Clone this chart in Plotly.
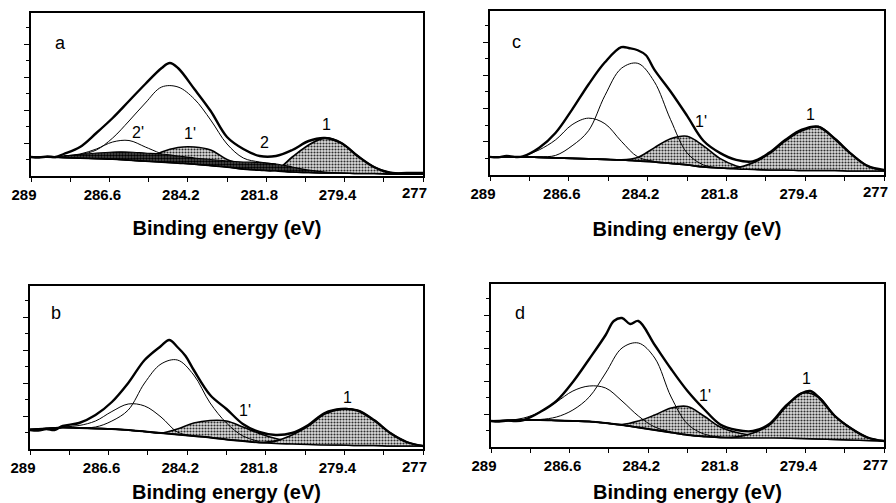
import plotly.graph_objects as go

# ---------------- data (intensity in arbitrary units) ----------------
E = [289, 288.5, 288, 287.5, 287, 286.5, 286, 285.5, 285, 284.5, 284, 283.5, 283,
     282.5, 282, 281.5, 281, 280.5, 280, 279.5, 279, 278.5, 278, 277.5, 277]
N = None

# panel a
raw_E_a = [289, 288.75, 288.5, 288.25, 288, 287.5, 287, 286.5, 286, 285.5, 285, 284.75, 284.5,
           284, 283.5, 283, 282.5, 282, 281.5, 281, 280.5, 280, 279.5, 279, 278.5, 278, 277.5, 277]
raw_a = [19, 18.5, 19.5, 19, 22, 29, 43, 58, 75, 92, 108, 113, 108, 87, 65, 39, 27, 20, 20, 26,
         35, 38, 33, 20, 9, 3, 3, 3]
bg_a = [19, 19, 18.5, 18, 17.5, 17, 16, 15, 14, 13, 12, 10.5, 9, 7, 6, 5, 4, 3.5, 3, 3,
        2.5, 2.5, 2, 2, 2]
band_a = [19, 19, 20, 21.5, 23, 24, 24, 23, 22, 20, 18, 16.5, 15, 14, 13.5, 12, 9, 6, 4, 3,
          2.5, 2.5, 2, 2, 2]
p2s_a = [N, N, 20, 22, 27, 34, 35.5, 29, 22, N, N, N, N, N, N, N, N, N, N, N, N, N, N, N, N]
main_a = [N, N, 20, 21.5, 26, 38, 55, 73, 89, 89, 77, 56, 32, 18, 14, 12, N, N, N, N, N, N, N, N, N]
p1s_a = [19, 19, 18.5, 18, 17.5, 17, 16, 15.5, 24, 28.5, 29, 26, 16.5, 11.5, 8.5, 6, 4, 3.5,
         3, 3, 2.5, 2.5, 2, 2, 2]
p1_a = [19, 19, 18.5, 18, 17.5, 17, 16, 15, 14, 13, 12, 10.5, 9, 7, 6, 6, 19, 31, 38, 33,
        20, 9, 3.5, 2.5, 2]

# panel b
raw_E_b = [289, 288.75, 288.5, 288.25, 288, 287.5, 287, 286.5, 286, 285.5, 285, 284.75, 284.5,
           284.25, 284, 283.5, 283, 282.5, 282, 281.5, 281, 280.5, 280, 279.5, 279, 278.5, 278,
           277.5, 277]
raw_b = [19, 18.5, 20, 19, 23, 26, 34, 47, 66, 89, 103, 109, 102, 93, 79, 54, 40, 25, 17, 14,
         16, 24, 36, 40, 38.5, 29, 16, 7, 3]
bg_b = [19.5, 20.5, 21.5, 21, 20.5, 20, 19, 17.5, 16, 14.5, 13, 11.5, 9.5, 8, 6.5, 5.5, 5,
        4.5, 4, 4, 3.5, 3.5, 3, 3, 3]
p2s_b = [N, N, 22, 23.5, 28, 37.5, 45, 43, 32, 17, 13, N, N, N, N, N, N, N, N, N, N, N, N, N, N]
main_b = [N, N, 22, 21.5, 22, 28, 39, 66, 85, 89, 74, 46, 26, 13, 7.5, N, N, N, N, N, N, N, N, N, N]
p1s_b = [19.5, 20.5, 21.5, 21, 20.5, 20, 19, 17.5, 16, 20, 26, 28.5, 28, 22, 15.5, 10.5,
         7.5, 5.5, 4.5, 4, 3.5, 3.5, 3, 3, 3]
p1_b = [19.5, 20.5, 21.5, 21, 20.5, 20, 19, 17.5, 16, 14.5, 13, 11.5, 9.5, 8, 6.5, 8, 14,
        23, 35, 40, 38.5, 29, 16, 7, 3]

# panel c
raw_E_c = [289, 288.75, 288.5, 288.25, 288, 287.5, 287, 286.5, 286, 285.5, 285, 284.75, 284.5,
           284.25, 284, 283.5, 283, 282.5, 282, 281.5, 281, 280.5, 280, 279.5, 279, 278.5, 278,
           277.5, 277]
raw_c = [18, 17.5, 19, 18, 18.5, 27, 42, 65, 90, 112, 127, 126, 124, 119, 105, 83, 59, 34, 22,
         15, 13.5, 22, 35, 45, 48, 36, 21, 9, 5]
bg_c = [18, 18, 18, 17.5, 17, 16.5, 16, 15.5, 15, 14, 13, 11.5, 10, 8, 7, 6, 5.5, 5, 5,
        4.5, 4.5, 4.5, 4, 4, 4]
p2s_c = [N, N, 18.5, 25, 35, 50, 56.5, 51, 33.5, 18, 13.5, N, N, N, N, N, N, N, N, N, N, N, N, N, N]
main_c = [N, N, 18, 18, 19.5, 29, 44, 79, 106, 111, 93, 55, 22, 10, 7, N, N, N, N, N, N, N, N, N, N]
p1s_c = [18, 18, 18, 17.5, 17, 16.5, 16, 15.5, 15, 17.5, 27, 36, 38.5, 29, 16.5, 9, 6, 5,
         5, 4.5, 4.5, 4.5, 4, 4, 4]
p1_c = [18, 18, 18, 17.5, 17, 16.5, 16, 15.5, 15, 14, 13, 11.5, 10, 8, 7, 7, 12, 21, 34,
        44, 48, 36, 21, 9, 4.5]

# panel d
raw_E_d = [289, 288.75, 288.5, 288.25, 288, 287.5, 287, 286.5, 286, 285.5, 285.25, 285, 284.75,
           284.5, 284, 283.5, 283, 282.5, 282, 281.5, 281, 280.5, 280, 279.5, 279.25, 279, 278.5,
           278, 277.5, 277]
raw_d = [26, 25.5, 26.5, 26, 27, 35, 46, 65, 88, 112, 126, 129, 123, 126, 102, 78, 56, 38, 22.5,
         17, 16, 23, 41, 54, 56, 50, 31, 18.5, 9.5, 6]
bg_d = [26, 26.5, 27, 27, 26.5, 26, 25.5, 24, 22, 19.5, 17, 14.5, 12, 10.5, 9.5, 9, 9, 9,
        9, 8.5, 8, 7.5, 7, 6.5, 6]
p2s_d = [N, 26.5, 29, 35, 45, 56, 61, 59, 46, 31, 20, 15, N, N, N, N, N, N, N, N, N, N, N, N, N]
main_d = [N, N, 27, 27.5, 30, 37, 50, 74, 99, 104, 89, 50, 23, 13, 10, N, N, N, N, N, N, N, N, N, N]
p1s_d = [26, 26.5, 27, 27, 26.5, 26, 25.5, 24, 22.5, 26, 32, 39, 40.5, 31, 20, 14.5, 11.5,
         10, 9, 8.5, 8, 7.5, 7, 6.5, 6]
p1_d = [26, 26.5, 27, 27, 26.5, 26, 25.5, 24, 22, 19.5, 17, 14.5, 12, 10.5, 9.5, 10, 14,
        22, 40, 54, 50, 31, 18.5, 9.5, 6]

tick_vals = [289, 286.6, 284.2, 281.8, 279.4]
tick_text = ["289", "286.6", "284.2", "281.8", "279.4"]
end_tick = 277
end_tick_text = "277"
minor_vals = [287.8, 285.4, 283.0, 280.6, 278.2, 277]
x_title = "Binding energy (eV)"

# peak labels: (text, energy, intensity)
labels_a = [("a", 288.1, 133), ("2'", 285.72, 43), ("1'", 284.13, 42), ("2", 281.84, 33), ("1", 279.94, 51)]
labels_b = [("b", 288.22, 136), ("1'", 282.44, 39), ("1", 279.32, 52)]
labels_c = [("c", 288.2, 132), ("1'", 282.57, 53), ("1", 279.25, 60)]
labels_d = [("d", 288.12, 134), ("1'", 282.47, 52), ("1", 279.38, 69)]

# ---------------- layout geometry ----------------
# the page body keeps its default 8 px margin, so the figure is drawn 8 px smaller
OFF = 8
W, H = 896 - OFF, 503 - OFF
def dom_x(l, r):
    return [(l - OFF) / W, (r - OFF) / W]
def dom_y(t, b):
    return [(H - (b - OFF)) / H, (H - (t - OFF)) / H]

panels = [
    dict(k="", raw_E=raw_E_a, raw=raw_a, bg=bg_a, band=band_a, p2s=p2s_a, main=main_a,
         p1s=p1s_a, p1=p1_a, labels=labels_a, xd=dom_x(31, 423), yd=dom_y(13, 176), standoff=19),
    dict(k="2", raw_E=raw_E_c, raw=raw_c, bg=bg_c, band=None, p2s=p2s_c, main=main_c,
         p1s=p1s_c, p1=p1_c, labels=labels_c, xd=dom_x(490, 884), yd=dom_y(11, 175), standoff=21),
    dict(k="3", raw_E=raw_E_b, raw=raw_b, bg=bg_b, band=None, p2s=p2s_b, main=main_b,
         p1s=p1s_b, p1=p1_b, labels=labels_b, xd=dom_x(30, 423), yd=dom_y(286, 449), standoff=11),
    dict(k="4", raw_E=raw_E_d, raw=raw_d, bg=bg_d, band=None, p2s=p2s_d, main=main_d,
         p1s=p1s_d, p1=p1_d, labels=labels_d, xd=dom_x(491, 884), yd=dom_y(284, 447), standoff=14),
]

FONT = "Liberation Sans, Arial, Helvetica, sans-serif"
TICKFONT = dict(family=FONT, size=15, color="black", weight="bold")
fig = go.Figure()
layout = dict(template="none", width=W, height=H, autosize=False,
              margin=dict(l=0, r=0, t=0, b=0, autoexpand=False),
              paper_bgcolor="white", plot_bgcolor="white", showlegend=False,
              font=dict(family=FONT, color="black"))
annotations = []

stipple = dict(shape=".", fgcolor="#2e2e2e", bgcolor="#dcdcdc", size=3, solidity=0.4, fillmode="replace")

for p in panels:
    xa, ya = "x" + p["k"], "y" + p["k"]
    common = dict(xaxis=xa, yaxis=ya, hoverinfo="skip", line_shape="spline")

    def base():
        fig.add_trace(go.Scatter(x=E, y=p["bg"], mode="lines", line=dict(width=0, color="black"), **common))

    # shaded components 1' and 1
    base()
    fig.add_trace(go.Scatter(x=E, y=p["p1s"], mode="lines", fill="tonexty", fillpattern=stipple,
                             fillcolor="#bdbdbd", line=dict(width=1.6, color="black"), **common))
    base()
    fig.add_trace(go.Scatter(x=E, y=p["p1"], mode="lines", fill="tonexty", fillpattern=stipple,
                             fillcolor="#bdbdbd", line=dict(width=1.8, color="black"), **common))
    if p["band"] is not None:
        base()
        fig.add_trace(go.Scatter(x=E, y=p["band"], mode="lines", fill="tonexty",
                                 fillpattern=dict(shape=".", fgcolor="#000", bgcolor="#555", size=3, solidity=0.6),
                                 fillcolor="#444", line=dict(width=1.2, color="black"), **common))
    # unshaded components
    fig.add_trace(go.Scatter(x=E, y=p["p2s"], mode="lines", line=dict(width=1, color="black"), **common))
    fig.add_trace(go.Scatter(x=E, y=p["main"], mode="lines", line=dict(width=1, color="black"), **common))
    # background
    fig.add_trace(go.Scatter(x=E, y=p["bg"], mode="lines", line=dict(width=1.6, color="black"), **common))
    # measured spectrum
    fig.add_trace(go.Scatter(x=p["raw_E"], y=p["raw"], mode="lines", line=dict(width=2.4, color="black"), **common))

    xkey = "xaxis" + p["k"]
    ykey = "yaxis" + p["k"]
    layout[xkey] = dict(domain=p["xd"], anchor=ya, range=[289, 277], showgrid=False, zeroline=False,
                        automargin=False,
                        showline=True, linewidth=2, linecolor="black", mirror=True,
                        tickmode="array", tickvals=tick_vals, ticktext=tick_text,
                        ticks="outside", ticklen=4, tickwidth=1.2, tickcolor="black",
                        ticklabelshift=7, ticklabeloverflow="allow",
                        tickfont=TICKFONT,
                        minor=dict(tickmode="array", tickvals=minor_vals, ticks="outside", ticklen=4,
                                   tickwidth=1, tickcolor="black"),
                        title=dict(text=x_title, standoff=p["standoff"],
                                   font=dict(family=FONT, size=20, color="black", weight="bold")))
    layout[ykey] = dict(domain=p["yd"], anchor=xa, range=[0, 163], showgrid=False, zeroline=False,
                        automargin=False,
                        showline=True, linewidth=2, linecolor="black", mirror=True,
                        tickmode="array", tickvals=[33, 66, 99, 132], showticklabels=False,
                        ticks="outside", ticklen=5, tickwidth=1.2, tickcolor="black",
                        minor=dict(tickmode="array", tickvals=[16.5, 49.5, 82.5, 115.5, 148.5],
                                   ticks="outside", ticklen=3, tickwidth=1, tickcolor="black"))
    # end-of-axis tick label, set slightly inside the frame as in the original
    annotations.append(dict(x=end_tick, y=0, xref=xa, yref=ya + " domain", text=end_tick_text,
                            showarrow=False, xanchor="center", yanchor="middle",
                            xshift=-9, yshift=-17, font=TICKFONT))
    for i, (txt, ex, ey) in enumerate(p["labels"]):
        annotations.append(dict(x=ex, y=ey, xref=xa, yref=ya, text=txt, showarrow=False,
                                font=dict(family=FONT, size=18 if i == 0 else 16, color="black")))

layout["annotations"] = annotations
fig.update_layout(**layout)
fig.write_html("out.html", config=dict(displayModeBar=False, responsive=False))
